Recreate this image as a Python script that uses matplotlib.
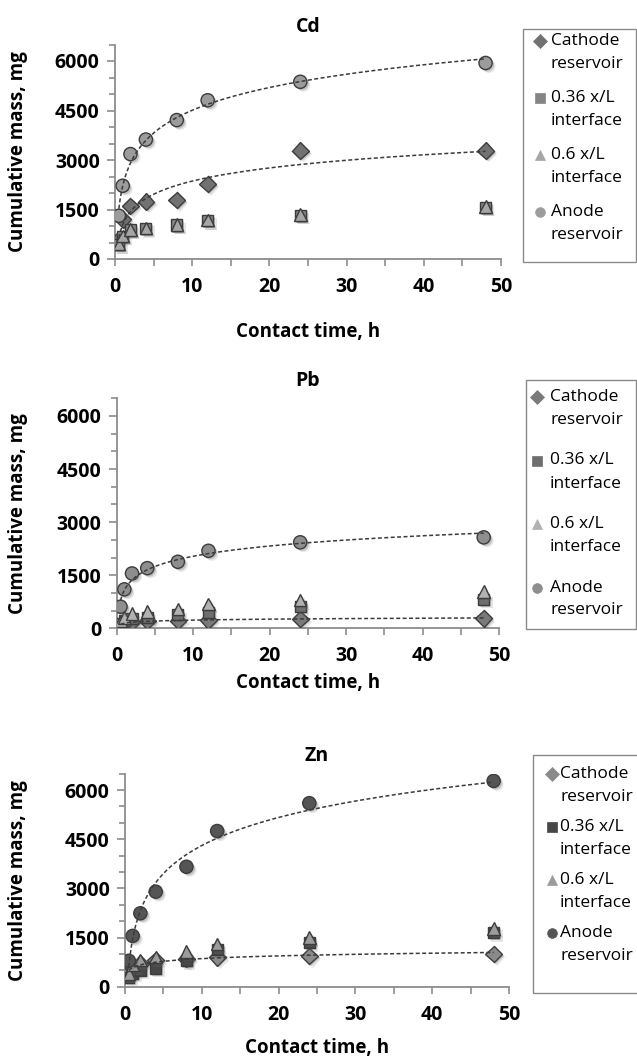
"""
Cumulative mass of Cd, Pb, Zn vs contact time (three stacked panels)
with logarithmic trendlines, recreated in matplotlib.
"""
import matplotlib.pyplot as plt
import matplotlib.patheffects as pe
import numpy as np
from matplotlib.lines import Line2D
from matplotlib.patches import Rectangle
from matplotlib.ticker import MultipleLocator

plt.rcParams["font.family"] = ["Open Sans", "DejaVu Sans"]

# contact time, h
t = [0.5, 1, 2, 4, 8, 12, 24, 48]

series_labels = ["Cathode\nreservoir", "0.36 x/L\ninterface", "0.6 x/L\ninterface", "Anode\nreservoir"]

cd_cathode = [600, 1200, 1610, 1740, 1790, 2270, 3280, 3280]
cd_x036 = [430, 680, 880, 930, 1030, 1160, 1330, 1560]
cd_x06 = [450, 700, 890, 940, 1050, 1180, 1350, 1590]
cd_anode = [1310, 2220, 3180, 3620, 4210, 4810, 5370, 5940]

pb_cathode = [90, 150, 190, 215, 220, 230, 265, 285]
pb_x036 = [120, 220, 280, 310, 380, 440, 610, 820]
pb_x06 = [200, 310, 420, 470, 540, 690, 800, 1040]
pb_anode = [610, 1100, 1550, 1700, 1880, 2190, 2430, 2570]

zn_cathode = [420, 600, 700, 800, 850, 900, 940, 1000]
zn_x036 = [290, 410, 510, 560, 790, 1140, 1340, 1650]
zn_x06 = [410, 660, 810, 900, 1070, 1300, 1500, 1780]
zn_anode = [790, 1550, 2240, 2900, 3660, 4750, 5600, 6280]

W, H = 637, 1064
SPINE = "#8c8c8c"
EDGE = "#3c3c3c"
MARKERS = ["D", "s", "^", "o"]
SIZES = [8.5, 8.0, 9.0, 9.5]
shadow = [pe.SimplePatchShadow(offset=(2.4, -2.4), shadow_rgbFace="#777777", alpha=0.18),
          pe.SimplePatchShadow(offset=(1.4, -1.4), shadow_rgbFace="#555555", alpha=0.25),
          pe.Normal()]


def log_trend(ax, x, y):
    x = np.asarray(x, float)
    a, b = np.polyfit(np.log(x), np.asarray(y, float), 1)
    xs = np.linspace(x.min(), x.max(), 300)
    ax.plot(xs, a * np.log(xs) + b, color="#3a3a3a", lw=1.1,
            ls=(0, (2.6, 1.6)), zorder=6)


def legend_box(box, mx, tx, y_first, gap, colors):
    bx0, by0, bx1, by1 = box
    fig.add_artist(Rectangle((bx0 / W, 1 - by1 / H), (bx1 - bx0) / W, (by1 - by0) / H,
                             transform=fig.transFigure, fill=False,
                             edgecolor="#8a8a8a", lw=1.0))
    for i, (lab, m, c) in enumerate(zip(series_labels, MARKERS, colors)):
        y = y_first + i * gap
        fig.add_artist(Line2D([mx / W], [1 - y / H], transform=fig.transFigure,
                              ls="none", marker=m, ms=7 if m != "^" else 7.5,
                              mfc=c, mec=c, mew=0.5))
        first, second = lab.split("\n")
        fig.text(tx / W, 1 - y / H, first, fontsize=12.5, va="center", ha="left")
        fig.text(tx / W, 1 - (y + 23) / H, second, fontsize=12.5, va="center", ha="left")


def panel(rect, title, data, colors, xlabel_y):
    ax = fig.add_axes(rect)
    for vals, m, ms, c, lab in zip(data, MARKERS, SIZES, colors, series_labels):
        ax.plot(t, vals, ls="none", marker=m, ms=ms, mfc=c, mec=EDGE,
                mew=1.0, label=lab, zorder=4, path_effects=shadow)
    log_trend(ax, t, data[0])
    log_trend(ax, t, data[3])

    ax.set_xlim(0, 50)
    ax.set_ylim(0, 6500)
    ax.xaxis.set_major_locator(MultipleLocator(10))
    ax.xaxis.set_minor_locator(MultipleLocator(5))
    ax.yaxis.set_major_locator(MultipleLocator(1500))
    ax.yaxis.set_minor_locator(MultipleLocator(500))
    for s in ("top", "right"):
        ax.spines[s].set_visible(False)
    for s in ("left", "bottom"):
        ax.spines[s].set_color(SPINE)
        ax.spines[s].set_linewidth(1.3)
    ax.tick_params(which="both", direction="out", color=SPINE, width=1.2)
    ax.tick_params(axis="x", which="both", length=5, pad=8)
    ax.tick_params(axis="y", which="major", length=6, pad=5)
    ax.tick_params(axis="y", which="minor", length=4)
    for lab in ax.get_xticklabels() + ax.get_yticklabels():
        lab.set_fontsize(14)
        lab.set_fontweight("bold")
    ax.set_title(title, fontsize=14, fontweight="bold", pad=9)
    ax.set_xlabel("Contact time, h", fontsize=13.5, fontweight="bold")
    ax.set_ylabel("Cumulative mass, mg", fontsize=13.5, fontweight="bold")
    bbox = ax.get_position()
    ax.xaxis.set_label_coords(0.5, (1 - (xlabel_y - 10) / H - bbox.y0) / bbox.height,
                              transform=ax.transAxes)
    ax.yaxis.set_label_coords((28 / W - bbox.x0) / bbox.width, 0.5, transform=ax.transAxes)
    return ax


fig = plt.figure(figsize=(W / 100, H / 100), dpi=100)

cd_colors = ["#727272", "#858585", "#a6a6a6", "#9c9c9c"]
pb_colors = ["#7a7a7a", "#6e6e6e", "#b2b2b2", "#8e8e8e"]
zn_colors = ["#8a8a8a", "#474747", "#9c9c9c", "#555555"]

panel([115 / W, 1 - 259 / H, 386 / W, 214.5 / H], "Cd",
      [cd_cathode, cd_x036, cd_x06, cd_anode], cd_colors, 332)
panel([116.7 / W, 1 - 628.3 / H, 382.3 / W, 230 / H], "Pb",
      [pb_cathode, pb_x036, pb_x06, pb_anode], pb_colors, 683)
panel([125 / W, 1 - 986.7 / H, 384 / W, 213 / H], "Zn",
      [zn_cathode, zn_x036, zn_x06, zn_anode], zn_colors, 1048)

legend_box((523, 29, 636, 262), 540, 551, 41, 57, cd_colors)
legend_box((526, 380, 636, 629), 537, 550, 397, 63.5, pb_colors)
legend_box((533, 755, 660, 993), 552, 560, 774, 53, zn_colors)

fig.savefig("out.png", dpi=100)
